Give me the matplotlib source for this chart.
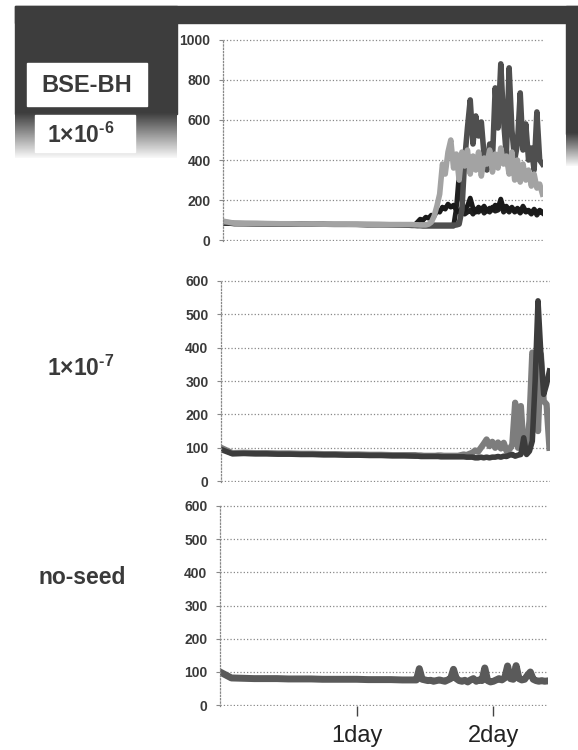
import numpy as np
import matplotlib.pyplot as plt
from matplotlib.patches import Rectangle

plt.rcParams['font.family'] = ['Liberation Sans', 'DejaVu Sans']
plt.rcParams['mathtext.fontset'] = 'custom'
plt.rcParams['mathtext.rm'] = 'Liberation Sans:bold'
plt.rcParams['mathtext.default'] = 'rm'

# time axis in hours: every 2 h before the rise, every 0.5 h after
hours = np.concatenate([np.arange(0, 34, 2), np.arange(34, 58, 0.5)])

# --- 1x10^-6 panel ---
p1_light = [95, 85, 84, 83, 83, 82, 82, 81, 81, 80, 80, 80, 79, 79, 78, 78, 78,
            78, 77, 77, 76, 76, 76, 80, 90, 120, 170, 230, 380, 330, 440, 500, 360,
            430, 300, 440, 370, 450, 330, 420, 350, 440, 320, 410, 380, 450, 340,
            430, 360, 460, 380, 420, 330, 440, 300, 400, 290, 380, 300, 350, 270,
            330, 260, 280, 230]
p1_dark = [90, 84, 83, 83, 82, 82, 81, 81, 80, 80, 79, 79, 79, 78, 78, 77, 77,
           76, 76, 75, 75, 75, 75, 75, 75, 75, 75, 75, 75, 75, 75, 75, 75, 76, 80,
           150, 400, 560, 700, 480, 620, 520, 590, 420, 350, 480, 400, 760, 560,
           880, 600, 420, 860, 550, 400, 480, 735, 450, 580, 400, 460, 350, 640,
           400, 380]
p1_black_a = [85, 82, 82, 81, 81, 80, 80, 80, 79, 79, 78, 78, 78, 77, 77, 77, 76,
              76, 76, 90, 105, 100, 115, 110, 125, 120, 145, 140, 165, 155, 180,
              165, 175, 150, 140, 160, 150, 170, 210, 160, 140, 165, 150, 170, 145,
              160, 150, 175, 160, 205, 155, 170, 150, 165, 145, 160, 140, 170, 145,
              150, 135, 155, 135, 150, 140]
p1_black_b = [85, 82, 82, 81, 81, 80, 80, 80, 79, 79, 78, 78, 78, 77, 77, 77, 76,
              72, 72, 71, 71, 70, 70, 70, 70, 70, 70, 70, 70, 70, 70, 70, 70,
              160, 330, 200, 130, 140, 150, 130, 155, 140, 160, 135, 150, 140, 165,
              145, 150, 180, 140, 155, 140, 160, 140, 150, 135, 155, 140, 145, 130,
              150, 125, 145, 135]

# --- 1x10^-7 panel ---
p2_mid = [100, 84, 85, 84, 84, 83, 83, 82, 82, 81, 81, 80, 80, 79, 79, 78, 78,
          78, 77, 77, 76, 76, 76, 76, 76, 77, 77, 76, 76, 76, 76, 76, 76,
          78, 80, 78, 82, 85, 92, 88, 100, 112, 125, 105, 118, 100, 116, 98, 115,
          90, 95, 110, 235, 100, 225, 95, 90, 180, 385, 370, 150, 380, 240, 230, 100]
p2_dark = [95, 82, 83, 82, 82, 81, 81, 80, 80, 79, 79, 78, 78, 77, 77, 76, 76,
           75, 75, 74, 74, 74, 74, 74, 74, 74, 73, 73, 73, 73, 73, 73, 73,
           73, 73, 72, 72, 72, 70, 70, 72, 70, 72, 70, 72, 72, 74, 72, 75, 74, 78,
           80, 75, 78, 80, 130, 80, 90, 120, 300, 540, 380, 260, 290, 330]

# --- no-seed panel ---
p3_line = [100, 82, 81, 80, 80, 80, 79, 79, 79, 78, 78, 78, 78, 77, 77, 77, 76,
           76, 76, 110, 78, 76, 74, 75, 72, 74, 76, 74, 72, 76, 80, 108, 80, 74,
           72, 75, 70, 76, 80, 72, 76, 74, 112, 74, 70, 72, 76, 80, 76, 82, 118,
           80, 78, 119, 80, 76, 78, 90, 100, 78, 74, 72, 74, 72, 73]

day_ticks = [24, 48]
day_labels = ['1day', '2day']

W, H = 578, 750
fig = plt.figure(figsize=(W / 100, H / 100), dpi=100)

# slide decoration in pixel coordinates
bg = fig.add_axes([0, 0, 1, 1], zorder=-5)
dark = '#3d3d3d'
bg.add_patch(Rectangle((15, 6), 563, 17, color=dark))
bg.add_patch(Rectangle((15, 6), 162, 108, color=dark))
bg.add_patch(Rectangle((566, 6), 12, 128, color=dark))
grad = np.linspace(0.25, 0.97, 50).reshape(-1, 1)
bg.imshow(grad, cmap='gray', vmin=0, vmax=1, aspect='auto',
          extent=(15, 177, 158, 113), zorder=1)
bg.imshow(grad, cmap='gray', vmin=0, vmax=1, aspect='auto',
          extent=(566, 578, 166, 133), zorder=1)
bg.set_xlim(0, W)
bg.set_ylim(H, 0)
bg.axis('off')
bg.add_patch(Rectangle((27, 63), 120, 43, color='white', zorder=2))
bg.add_patch(Rectangle((35, 115), 100, 37, color='white', zorder=2))
bg.text(87, 86, 'BSE-BH', fontsize=17, fontweight='bold', color='#3a3a3a',
        ha='center', va='center', zorder=3)
bg.text(47, 135, r'1×10$^{\text{-6}}$', fontsize=16.5, fontweight='bold',
        color='#3a3a3a', ha='left', va='center', zorder=3)
bg.text(47, 368, r'1×10$^{\text{-7}}$', fontsize=16.5, fontweight='bold',
        color='#3a3a3a', ha='left', va='center')
bg.text(38, 578, 'no-seed', fontsize=16.5, fontweight='bold', color='#3a3a3a',
        ha='left', va='center')
bg.add_patch(Rectangle((177, 23), 389, 220, color='white', zorder=0))


def panel(px_left, px_right, px_top, px_bottom, ymax):
    ax = fig.add_axes([px_left / W, 1 - px_bottom / H,
                       (px_right - px_left) / W, (px_bottom - px_top) / H])
    ax.set_facecolor('none')
    ax.set_xlim(0, 57.6)
    ax.set_ylim(-ymax * 0.004, ymax * 1.004)
    ax.set_yticks(np.arange(0, ymax + 1, 100 if ymax == 600 else 200))
    for s in ['top', 'right', 'bottom']:
        ax.spines[s].set_visible(False)
    ax.spines['left'].set_linestyle(':')
    ax.spines['left'].set_color('#888888')
    ax.spines['left'].set_linewidth(0.9)
    ax.yaxis.grid(True, linestyle=':', color='#888888', linewidth=0.9)
    ax.set_axisbelow(True)
    ax.tick_params(axis='y', length=3, color='#888888', width=0.8, pad=6,
                   labelsize=10, labelcolor='#3a3a3a')
    for lab in ax.get_yticklabels():
        lab.set_fontweight('bold')
    ax.set_xticks([])
    return ax


ax1 = panel(223, 543, 39, 241, 1000)
ax1.plot(hours, p1_black_b, color='#202020', lw=3.5, solid_joinstyle='round')
ax1.plot(hours, p1_black_a, color='#1a1a1a', lw=3.5, solid_joinstyle='round')
ax1.plot(hours, p1_dark, color='#4f4f4f', lw=4, solid_joinstyle='round')
ax1.plot(hours, p1_light, color='#a3a3a3', lw=4, solid_joinstyle='round')

ax2 = panel(221, 550, 280, 482, 600)
ax2.plot(hours, p2_mid, color='#7d7d7d', lw=4.5, solid_joinstyle='round')
ax2.plot(hours, p2_dark, color='#3c3c3c', lw=4, solid_joinstyle='round')

ax3 = panel(220, 548, 505, 706, 600)
ax3.plot(hours, p3_line, color='#5a5a5a', lw=5, solid_joinstyle='round')
ax3.set_xticks(day_ticks, day_labels)
ax3.tick_params(axis='x', length=7, width=1, color='#444444', pad=7,
                labelsize=17, labelcolor='#222222')

fig.savefig('out.png', dpi=100)
